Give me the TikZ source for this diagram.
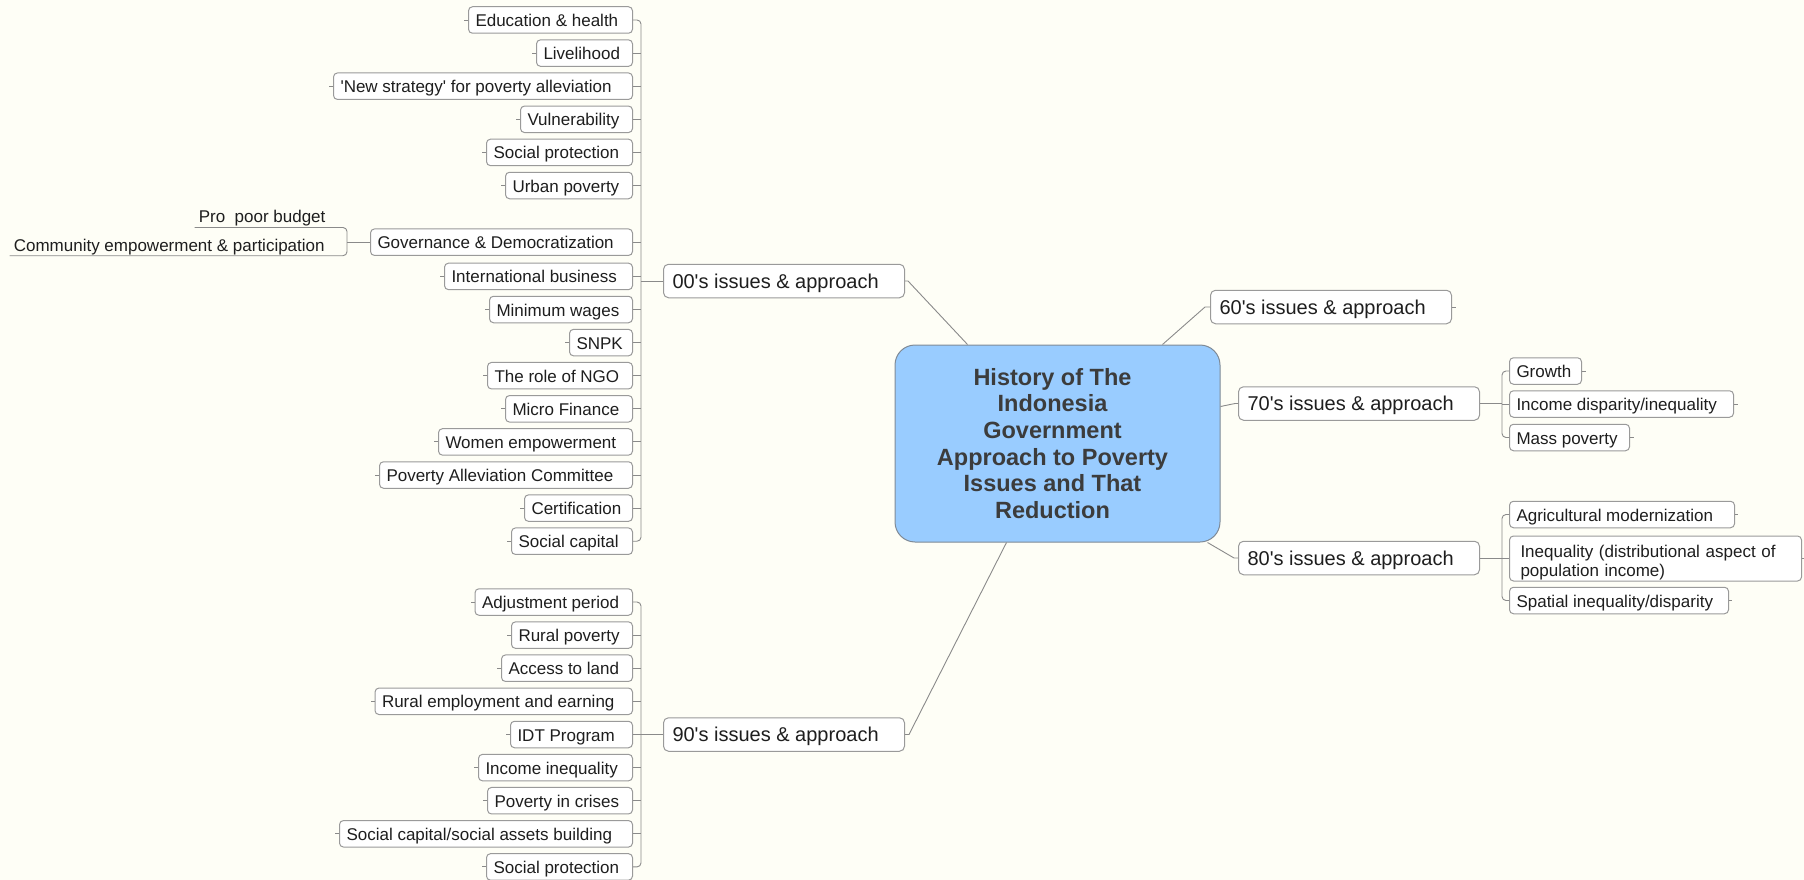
\documentclass[tikz,border=0pt]{standalone}
\usepackage{fontspec}
\setmainfont{Liberation Sans}
\usetikzlibrary{calc}
\definecolor{bgc}{HTML}{FEFEF6}
\definecolor{cenfill}{HTML}{99CCFF}
\definecolor{cenline}{HTML}{7F8A96}
\definecolor{boxline}{HTML}{9A9A9A}
\definecolor{linec}{HTML}{8A8A8A}
\definecolor{txt}{HTML}{1E1E1E}
\definecolor{centxt}{HTML}{3C3C3C}
\newcommand{\lbx}[2]{\makebox[#1pt][l]{#2}}
\newcommand{\myq}{\textquotesingle}
\newcommand{\cln}[1]{#1\kern10pt}
\begin{document}
\begin{tikzpicture}[x=1pt,y=-1pt,
  leaf/.style={draw=boxline, line width=1pt, fill=white, rounded corners=4pt,
    inner xsep=7pt, inner ysep=0pt, minimum height=26.5pt,
    text height=13pt, text depth=0pt, font=\fontsize{17}{20}\selectfont, text=txt},
  topic/.style={draw=boxline, line width=1pt, fill=white, rounded corners=5pt,
    inner xsep=9pt, inner ysep=0pt, minimum height=33.5pt,
    text height=14pt, text depth=0pt, font=\fontsize{20}{24}\selectfont, text=txt},
  under/.style={inner xsep=4pt, inner ysep=4.5pt, text height=13pt, text depth=0pt,
    font=\fontsize{17}{20}\selectfont, text=txt},
  central/.style={draw=cenline, line width=1pt, fill=cenfill, rounded corners=20pt,
    minimum width=325pt, minimum height=197pt, align=center,
    font=\bfseries\fontsize{23.5}{26.7}\selectfont, text=centxt},
  conn/.style={draw=linec, line width=0.9pt}
]
\fill[bgc] (0,0) rectangle (1804,880);
\useasboundingbox (0,0) rectangle (1804,880);

% central topic
\node[central] (cen) at (1057.5,443.5) {\cln{History of The}\\\cln{Indonesia}\\\cln{Government}\\\cln{Approach to Poverty}\\\cln{Issues and That}\\\cln{Reduction}};

% main topics
\node[topic, anchor=west] (c00) at (663,281) {\lbx{223}{00\myq s issues \& approach}};
\node[topic, anchor=west] (c60) at (1210,307) {\lbx{223}{60\myq s issues \& approach}};
\node[topic, anchor=west] (c70) at (1238,403.5) {\lbx{223}{70\myq s issues \& approach}};
\node[topic, anchor=west] (c80) at (1238,558) {\lbx{223}{80\myq s issues \& approach}};
\node[topic, anchor=west] (c90) at (663,734.5) {\lbx{223}{90\myq s issues \& approach}};

% 00's leaves
\node[leaf, anchor=east] (a01) at (633,20) {\lbx{150}{Education \& health}};
\node[leaf, anchor=east] (a02) at (633,53.1) {\lbx{82}{Livelihood}};
\node[leaf, anchor=east] (a03) at (633,86.2) {\lbx{285}{\myq New strategy\myq{} for poverty alleviation}};
\node[leaf, anchor=east] (a04) at (633,119.3) {\lbx{98}{Vulnerability}};
\node[leaf, anchor=east] (a05) at (633,152.4) {\lbx{132}{Social protection}};
\node[leaf, anchor=east] (a06) at (633,185.5) {\lbx{113}{Urban poverty}};
\node[leaf, anchor=east] (a07) at (633,242.2) {\lbx{248}{Governance \& Democratization}};
\node[leaf, anchor=east] (a08) at (633,276.4) {\lbx{174}{International business}};
\node[leaf, anchor=east] (a09) at (633,309.5) {\lbx{129}{Minimum wages}};
\node[leaf, anchor=east] (a10) at (633,342.6) {\lbx{49}{SNPK}};
\node[leaf, anchor=east] (a11) at (633,375.7) {\lbx{131}{The role of NGO}};
\node[leaf, anchor=east] (a12) at (633,408.8) {\lbx{113}{Micro Finance}};
\node[leaf, anchor=east] (a13) at (633,441.9) {\lbx{180}{Women empowerment}};
\node[leaf, anchor=east] (a14) at (633,475) {\lbx{239}{Poverty Alleviation Committee}};
\node[leaf, anchor=east] (a15) at (633,508.1) {\lbx{94}{Certification}};
\node[leaf, anchor=east] (a16) at (633,541.2) {\lbx{107}{Social capital}};

% governance children
\node[under, anchor=south east] (pro) at (347,227.5) {\lbx{144}{Pro\ \ poor budget}};
\node[under, anchor=south east] (com) at (347,255.7) {\lbx{329}{Community empowerment \& participation}};

% 90's leaves
\node[leaf, anchor=east] (d01) at (633,602) {\lbx{143.5}{Adjustment period}};
\node[leaf, anchor=east] (d02) at (633,635.1) {\lbx{107}{Rural poverty}};
\node[leaf, anchor=east] (d03) at (633,668.2) {\lbx{117}{Access to land}};
\node[leaf, anchor=east] (d04) at (633,701.3) {\lbx{243.5}{Rural employment and earning}};
\node[leaf, anchor=east] (d05) at (633,734.5) {\lbx{108}{IDT Program}};
\node[leaf, anchor=east] (d06) at (633,767.6) {\lbx{140}{Income inequality}};
\node[leaf, anchor=east] (d07) at (633,800.7) {\lbx{131}{Poverty in crises}};
\node[leaf, anchor=east] (d08) at (633,833.8) {\lbx{279}{Social capital/social assets building}};
\node[leaf, anchor=east] (d09) at (633,866.9) {\lbx{132}{Social protection}};

% 70's leaves
\node[leaf, anchor=west] (b01) at (1509,371) {\lbx{58}{Growth}};
\node[leaf, anchor=west] (b02) at (1509,404) {\lbx{210}{Income disparity/inequality}};
\node[leaf, anchor=west] (b03) at (1509,437.5) {\lbx{106}{Mass poverty}};

% 80's leaves
\node[leaf, anchor=west] (e01) at (1509,514.5) {\lbx{211}{Agricultural modernization}};
\node[leaf, anchor=west, inner xsep=11pt, minimum height=45pt, text width=270pt, align=left,
  text height=16.5pt, text depth=19.5pt, font=\fontsize{17}{19.5}\selectfont] (e02) at (1509,558.5)
  {Inequality (distributional aspect of\\population income)};
\node[leaf, anchor=west] (e03) at (1509,600.5) {\lbx{205}{Spatial inequality/disparity}};

% spine coordinates
\coordinate (s00) at (641,281);
\coordinate (s90) at (641,734.5);
\coordinate (s70) at (1502,403.5);
\coordinate (s80) at (1502,558);

% central connectors
\draw[conn] (c00.east) -- ++(3,0) -- ($(cen.north west)+(73,0)$);
\draw[conn] ($(cen.north west)+(268,0)$) -- ($(c60.west)+(-5,0)$) -- (c60.west);
\draw[conn] ($(cen.north east)+(0,62)$) -- ($(c70.west)+(-3,0)$) -- (c70.west);
\draw[conn] ($(cen.south east)+(-13,0)$) -- ($(c80.west)+(-4,0)$) -- (c80.west);
\draw[conn] ($(cen.south west)+(112,0)$) -- ($(c90.east)+(4,0)$) -- (c90.east);
\draw[conn] (c60.east) -- ++(4,0);

% 00's branch
\draw[conn] (c00.west) -- (s00);
\draw[conn, rounded corners=4pt] (a01.east) -- (a01.east -| s00) -- (a16.east -| s00) -- (a16.east);
\foreach \i in {02,03,04,05,06,07,08,09,10,11,12,13,14,15}{
  \draw[conn] (a\i.east) -- (a\i.east -| s00);
}
\foreach \i in {01,02,03,04,05,06,08,09,10,11,12,13,14,15,16}{
  \draw[conn] (a\i.west) -- ++(-4,0);
}
\draw[conn] (a07.west) -- (a07.west -| pro.east);
\draw[conn, rounded corners=4pt] (pro.south west) -- (pro.south east) -- (com.south east) -- (com.south west);

% 90's branch
\draw[conn] (c90.west) -- (s90);
\draw[conn, rounded corners=4pt] (d01.east) -- (d01.east -| s90) -- (d09.east -| s90) -- (d09.east);
\foreach \i in {02,03,04,05,06,07,08}{
  \draw[conn] (d\i.east) -- (d\i.east -| s90);
}
\foreach \i in {01,02,03,04,05,06,07,08,09}{
  \draw[conn] (d\i.west) -- ++(-4,0);
}

% 70's branch
\draw[conn] (c70.east) -- (s70);
\draw[conn, rounded corners=4pt] (b01.west) -- (b01.west -| s70) -- (b03.west -| s70) -- (b03.west);
\draw[conn] (b02.west) -- (b02.west -| s70);
\foreach \i in {01,02,03}{
  \draw[conn] (b\i.east) -- ++(4,0);
}

% 80's branch
\draw[conn] (c80.east) -- (s80);
\draw[conn, rounded corners=4pt] (e01.west) -- (e01.west -| s80) -- (e03.west -| s80) -- (e03.west);
\draw[conn] (e02.west) -- (e02.west -| s80);
\foreach \i in {01,02,03}{
  \draw[conn] (e\i.east) -- ++(3,0);
}
\end{tikzpicture}
\end{document}
